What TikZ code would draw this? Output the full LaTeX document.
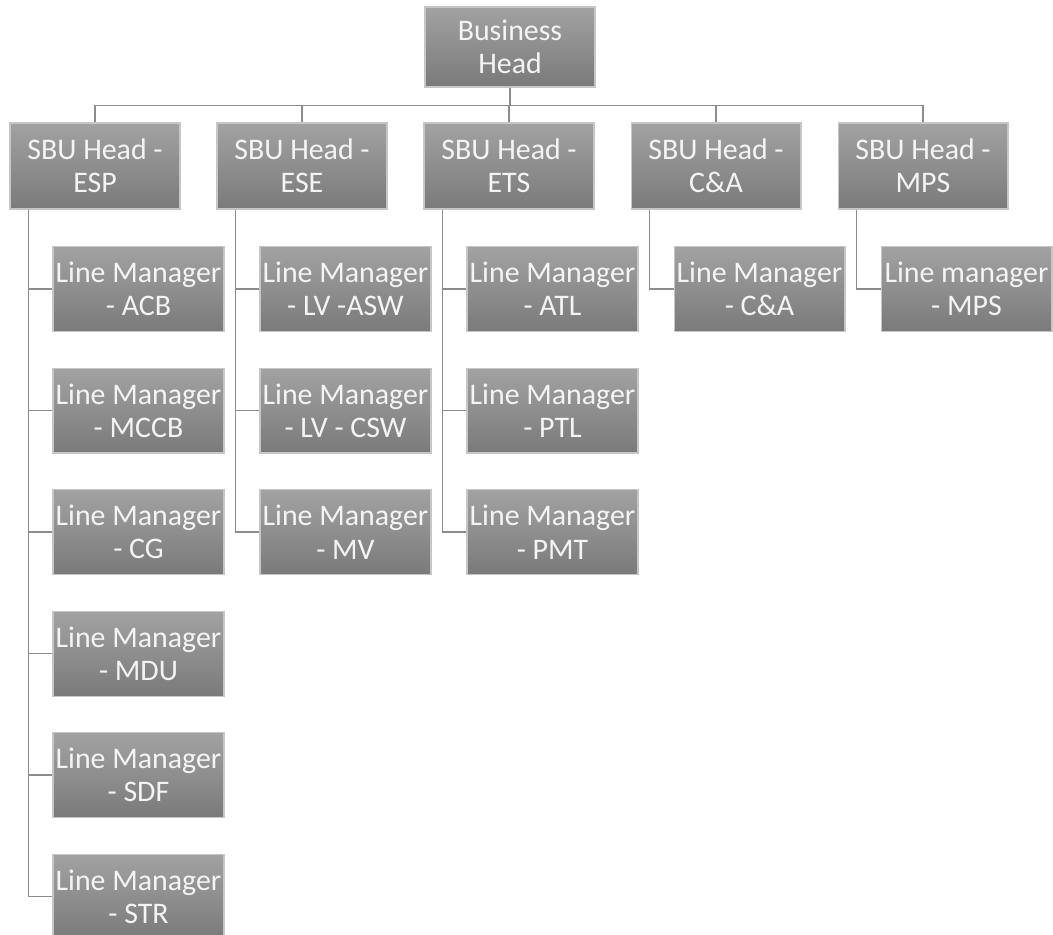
\documentclass[tikz,border=0pt]{standalone}
\usepackage{fontspec}
\setmainfont{Carlito}
\usetikzlibrary{calc,positioning}
\definecolor{boxtop}{HTML}{A2A2A2}
\definecolor{boxbot}{HTML}{7A7A7A}
\definecolor{boxedge}{HTML}{C6C6C6}
\definecolor{linkgray}{HTML}{8C8C8C}
\definecolor{boxtext}{HTML}{F4F4F4}

\begin{document}
\begin{tikzpicture}[
  x=0.02cm, y=-0.02cm,
  orgbox/.style={draw=boxedge, line width=0.6pt, top color=boxtop, bottom color=boxbot,
    text=boxtext, font=\fontsize{17}{19}\selectfont, align=center, inner sep=0pt,
    minimum width=3.4cm},
  lmbox/.style={orgbox, minimum width=3.42cm, minimum height=1.7cm},
  link/.style={draw=linkgray, line width=0.9pt},
]

\useasboundingbox (0,0) rectangle (1053,934);

% ---------------- top ----------------
\node[orgbox, minimum height=1.6cm] (bh) at (510,47) {Business\\Head};

% ---------------- SBU heads ----------------
\foreach \n/\lab [count=\i from 0] in {esp/ESP, ese/ESE, ets/ETS, ca/C\&A, mps/MPS} {
  \node[orgbox, minimum height=1.72cm] (\n) at (95+207*\i,166) {SBU Head -\\\lab};
  \draw[link] (bh.south) -- ++(0,18) -| (\n.north);
}

% ---------------- line managers ----------------
% ESP
\foreach \lab [count=\k from 0] in {ACB, MCCB, CG, MDU, SDF, STR} {
  \node[lmbox] (esp\k) at ($(esp.south)+(43.5,79.5+121.5*\k)$) {Line Manager\\- \lab};
  \draw[link] ($(esp.south west)+(19,0)$) |- (esp\k.west);
}
% ESE
\foreach \lab [count=\k from 0] in {LV -ASW, LV - CSW, MV} {
  \node[lmbox] (ese\k) at ($(ese.south)+(43.5,79.5+121.5*\k)$) {Line Manager\\- \lab};
  \draw[link] ($(ese.south west)+(19,0)$) |- (ese\k.west);
}
% ETS
\foreach \lab [count=\k from 0] in {ATL, PTL, PMT} {
  \node[lmbox] (ets\k) at ($(ets.south)+(43.5,79.5+121.5*\k)$) {Line Manager\\- \lab};
  \draw[link] ($(ets.south west)+(19,0)$) |- (ets\k.west);
}
% C&A
\node[lmbox] (ca0) at ($(ca.south)+(43.5,79.5)$) {Line Manager\\- C\&A};
\draw[link] ($(ca.south west)+(19,0)$) |- (ca0.west);
% MPS
\node[lmbox] (mps0) at ($(mps.south)+(43.5,79.5)$) {Line manager\\- MPS};
\draw[link] ($(mps.south west)+(19,0)$) |- (mps0.west);

\end{tikzpicture}
\end{document}
